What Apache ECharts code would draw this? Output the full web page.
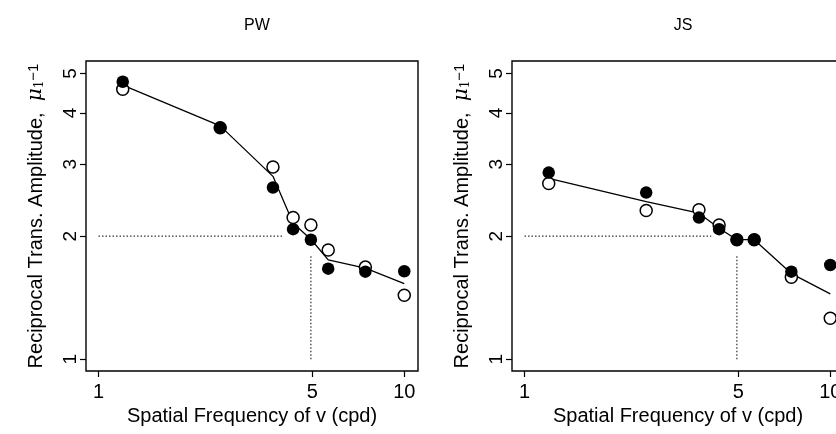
<!DOCTYPE html>
<html>
<head>
<meta charset="utf-8">
<script src="https://cdn.jsdelivr.net/npm/echarts@6/dist/echarts.min.js"></script>
<style>
  html, body { margin: 0; padding: 0; background: #fff; }
  #chart { width: 836px; height: 434px; }
</style>
</head>
<body>
<div id="chart"></div>
<script>
// ---- data ----
const panelTitles = ['PW', 'JS'];
const freq = [1.2, 2.5, 3.72, 4.33, 4.95, 5.64, 7.46, 10];

const pwFilled = [4.77, 3.68, 2.63, 2.08, 1.96, 1.665, 1.637, 1.641];
const pwOpen   = [4.57, 3.68, 2.95, 2.22, 2.13, 1.85, 1.68, 1.434];
const pwFit    = [4.68, 3.72, 2.80, 2.15, 1.965, 1.75, 1.67, 1.53];

const jsFilled = [2.86, 2.555, 2.22, 2.08, 1.96, 1.96, 1.637, 1.70];
const jsOpen   = [2.69, 2.31, 2.32, 2.13, 1.96, 1.96, 1.586, 1.26];
const jsFit    = [2.77, 2.43, 2.275, 2.09, 1.96, 1.96, 1.62, 1.445];

// dotted guide lines: horizontal at level 2 up to hEnd, vertical at refFreq up to vTop
const refLevel = 2;
const refFreq = 4.95;
const hStart = 1;
const hEnd = [4.02, 4.08];
const vBottom = 1;
const vTop = [1.8, 1.8];

const xTicks = [1, 5, 10];
const yTicks = [1, 2, 3, 4, 5];
const xRange = [0.91, 11.09];
const yRange = [0.936, 5.36];

const FONT = '"Liberation Sans", Arial, Helvetica, sans-serif';

const chart = echarts.init(document.getElementById('chart'), null, { renderer: 'canvas' });

const gridLefts = [86, 512];
const grids = gridLefts.map(l => ({
  left: l, top: 61, width: 332, height: 310,
  containLabel: false, outerBoundsMode: 'none',
  show: true, borderColor: '#000', borderWidth: 1.4, backgroundColor: 'transparent'
}));

const xAxes = [0, 1].map(i => ({
  type: 'log', gridIndex: i, min: xRange[0], max: xRange[1],
  name: 'Spatial Frequency of v (cpd)', nameLocation: 'middle', nameGap: 31,
  nameTextStyle: { fontFamily: FONT, fontSize: 20, color: '#000' },
  axisLine: { show: false },
  axisTick: { show: true, customValues: xTicks, length: 6, inside: false, lineStyle: { color: '#000', width: 1.2 } },
  axisLabel: { customValues: xTicks, fontFamily: FONT, fontSize: 20, color: '#000', margin: 11, formatter: v => String(v) },
  splitLine: { show: false }, minorTick: { show: false }
}));

const yAxes = [0, 1].map(i => ({
  type: 'log', gridIndex: i, min: yRange[0], max: yRange[1],
  name: 'Reciprocal Trans. Amplitude,  {mu|μ}{sub|1}{sup|−1}',
  nameLocation: 'middle', nameGap: 40,
  nameTextStyle: {
    fontFamily: FONT, fontSize: 20, color: '#000',
    rich: {
      mu: { fontFamily: '"DejaVu Serif", serif', fontStyle: 'italic', fontSize: 20, color: '#000' },
      sub: { fontFamily: '"DejaVu Serif", serif', fontSize: 12, color: '#000', verticalAlign: 'bottom' },
      sup: { fontFamily: FONT, fontSize: 15, color: '#000', verticalAlign: 'top' }
    }
  },
  axisLine: { show: false },
  axisTick: { show: true, customValues: yTicks, length: 6, lineStyle: { color: '#000', width: 1.2 } },
  axisLabel: { customValues: yTicks, rotate: 90, fontFamily: FONT, fontSize: 19, color: '#000', margin: 6, formatter: v => String(v) },
  splitLine: { show: false }, minorTick: { show: false }
}));

function pairs(xs, ys) { return xs.map((x, k) => [x, ys[k]]); }

const panelData = [
  { filled: pwFilled, open: pwOpen, fit: pwFit },
  { filled: jsFilled, open: jsOpen, fit: jsFit }
];

const series = [];
panelData.forEach((p, i) => {
  const common = { xAxisIndex: i, yAxisIndex: i, animation: false, silent: true };
  series.push(Object.assign({
    type: 'line', data: [[hStart, refLevel], [hEnd[i], refLevel]], showSymbol: false, symbol: 'none',
    lineStyle: { color: '#000', width: 1, type: [1.5, 2] }, z: 1
  }, common));
  series.push(Object.assign({
    type: 'line', data: [[refFreq, vBottom], [refFreq, vTop[i]]], showSymbol: false, symbol: 'none',
    lineStyle: { color: '#000', width: 1, type: [1.5, 2] }, z: 1
  }, common));
  series.push(Object.assign({
    type: 'line', data: pairs(freq, p.fit), showSymbol: false, symbol: 'none',
    lineStyle: { color: '#000', width: 1.3 }, z: 2
  }, common));
  series.push(Object.assign({
    type: 'scatter', data: pairs(freq, p.open), symbol: 'circle', symbolSize: 12,
    itemStyle: { color: '#fff', borderColor: '#000', borderWidth: 1.5, opacity: 1 }, z: 3
  }, common));
  series.push(Object.assign({
    type: 'scatter', data: pairs(freq, p.filled), symbol: 'circle', symbolSize: 12.5,
    itemStyle: { color: '#000', borderColor: '#000', borderWidth: 0, opacity: 1 }, z: 4
  }, common));
});

chart.setOption({
  animation: false,
  backgroundColor: '#fff',
  title: panelTitles.map((t, i) => ({
    text: t, left: gridLefts[i] + 166, top: 13, textAlign: 'center',
    textStyle: { fontFamily: FONT, fontSize: 16, fontWeight: 'normal', color: '#000' }
  })),
  grid: grids,
  xAxis: xAxes,
  yAxis: yAxes,
  series: series
});
</script>
</body>
</html>
